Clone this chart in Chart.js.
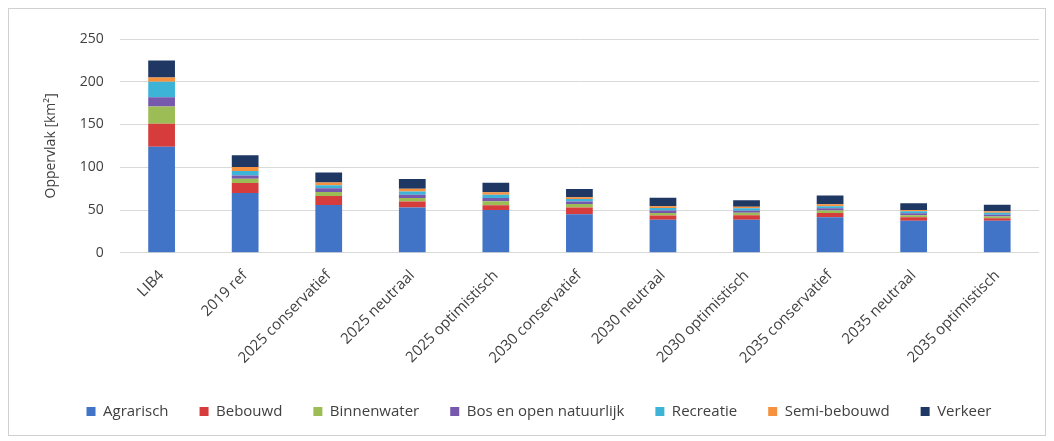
<!DOCTYPE html>
<html>
<head>
<meta charset="utf-8">
<script src="https://cdn.jsdelivr.net/npm/chart.js@4/dist/chart.umd.min.js"></script>
<style>
  html, body { margin: 0; padding: 0; background: #fff; }
  #frame {
    position: absolute; left: 8px; top: 8px;
    width: 1036px; height: 426px;
    border: 1px solid #d0d0d0;
  }
</style>
</head>
<body>
<div id="frame"><canvas id="landChart" width="1036" height="426"></canvas></div>
<script>
// Categories (scenarios)
const scenarios = ['LIB4', '2019 ref', '2025 conservatief', '2025 neutraal', '2025 optimistisch',
    '2030 conservatief', '2030 neutraal', '2030 optimistisch', '2035 conservatief', '2035 neutraal', '2035 optimistisch'];

// Area per land use type [km2]
const agrarisch      = [124, 70, 56, 53, 50, 45, 38.5, 38.5, 41.5, 37.5, 37.5];
const bebouwd        = [27, 11.5, 10.5, 7, 5.5, 8, 5, 5.5, 5, 4, 2.8];
const binnenwater    = [20, 5, 4.7, 4, 4.7, 4, 3, 2.8, 2.8, 2.3, 2];
const bosOpen        = [11, 4, 4.3, 3.8, 4, 3, 2.8, 2.3, 2.7, 2.3, 2.1];
const recreatie      = [18, 5, 3.6, 4, 3.8, 2.8, 3, 3, 2.3, 2.4, 2.4];
const semiBebouwd    = [5, 4.7, 3, 3, 2.8, 2, 2, 1.6, 2.4, 1.6, 1.7];
const verkeer        = [20, 13.8, 11.8, 11.5, 11, 9.8, 10, 7.8, 10.2, 7.8, 7.8];

const seriesNames = ['Agrarisch', 'Bebouwd', 'Binnenwater', 'Bos en open natuurlijk', 'Recreatie', 'Semi-bebouwd', 'Verkeer'];
const seriesData = [agrarisch, bebouwd, binnenwater, bosOpen, recreatie, semiBebouwd, verkeer];
const seriesColors = ['#4174c6', '#d63c3c', '#9cbc55', '#7658ad', '#3db3d8', '#f5913f', '#1f3763'];

const font = 'Open Sans, Liberation Sans, sans-serif';

new Chart(document.getElementById('landChart').getContext('2d'), {
    type: 'bar',
    data: {
        labels: scenarios,
        datasets: seriesNames.map((name, i) => ({
            label: name,
            data: seriesData[i],
            backgroundColor: seriesColors[i],
            borderWidth: 0,
            barPercentage: 0.32,
            categoryPercentage: 1,
        })),
    },
    options: {
        responsive: false,
        animation: false,
        layout: { padding: { left: 30, right: 6, top: 30, bottom: 6 } },
        plugins: {
            legend: {
                position: 'bottom',
                labels: {
                    boxWidth: 9, boxHeight: 9, padding: 31,
                    color: '#404040',
                    font: { family: font, size: 15 },
                },
            },
            tooltip: { enabled: false },
        },
        scales: {
            x: {
                stacked: true,
                grid: { display: false },
                border: { display: false },
                ticks: {
                    minRotation: 45, maxRotation: 45, padding: 6,
                    color: '#404040',
                    font: { family: font, size: 15 },
                },
            },
            y: {
                stacked: true,
                min: 0, max: 250,
                ticks: {
                    stepSize: 50, padding: 16,
                    color: '#404040',
                    font: { family: font, size: 14 },
                },
                grid: { color: '#d9d9d9', drawTicks: false },
                border: { display: false },
                title: {
                    display: true,
                    text: 'Oppervlak [km²]',
                    color: '#404040',
                    font: { family: font, size: 14 },
                },
            },
        },
    },
});
</script>
</body>
</html>
